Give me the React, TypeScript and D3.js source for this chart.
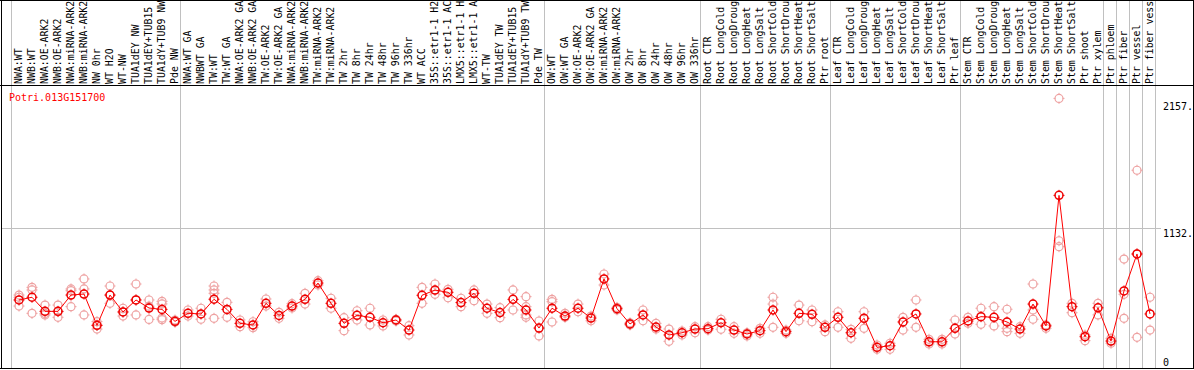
import React, { useEffect } from "react";
import * as d3 from "d3";

const categories = [
  "NWA:WT","NWB:WT","NWA:OE-ARK2","NWB:OE-ARK2","NWA:miRNA-ARK2","NWB:miRNA-ARK2","NW 0hr","WT H2O","WT-NW","TUA1dEY NW","TUA1dEY+TUB15 NW","TUA1dY+TUB9 NW","Pde NW",
  "NWA:WT GA","NWBWT GA","TW:WT","TW:WT GA","NWA:OE-ARK2 GA","NWB:OE-ARK2 GA","TW:OE-ARK2","TW:OE-ARK2 GA","NWA:miRNA-ARK2","NWB:miRNA-ARK2","TW:miRNA-ARK2","TW:miRNA-ARK2",
  "TW 2hr","TW 8hr","TW 24hr","TW 48hr","TW 96hr","TW 336hr","WT ACC","35S::etr1-1 H2O","35S::etr1-1 ACC","LMX5::etr1-1 H2O","LMX5::etr1-1 ACC","WT-TW","TUA1dEY TW","TUA1dEY+TUB15 TW","TUA1dY+TUB9 TW","Pde TW",
  "OW:WT","OW:WT GA","OW:OE-ARK2","OW:OE-ARK2 GA","OW:miRNA-ARK2","OW:miRNA-ARK2","OW 2hr","OW 8hr","OW 24hr","OW 48hr","OW 96hr","OW 336hr",
  "Root CTR","Root LongCold","Root LongDrought","Root LongHeat","Root LongSalt","Root ShortCold","Root ShortDrought","Root ShortHeat","Root ShortSalt","Ptr root",
  "Leaf CTR","Leaf LongCold","Leaf LongDrought","Leaf LongHeat","Leaf LongSalt","Leaf ShortCold","Leaf ShortDrought","Leaf ShortHeat","Leaf ShortSalt","Ptr leaf",
  "Stem CTR","Stem LongCold","Stem LongDrought","Stem LongHeat","Stem LongSalt","Stem ShortCold","Stem ShortDrought","Stem ShortHeat","Stem ShortSalt","Ptr shoot","Ptr xylem",
  "Ptr phloem","Ptr fiber","Ptr vessel","Ptr fiber vessel"
];

const meanValues = [
  550,572,458,458,590,598,345,590,453,550,485,474,377,
  442,437,556,474,361,348,523,425,501,555,687,523,
  361,426,410,366,388,307,588,630,612,529,604,483,448,555,469,323,
  483,420,483,404,720,480,356,429,331,267,285,315,
  318,366,307,275,302,469,294,442,434,329,
  410,285,402,167,180,372,437,212,212,321,
  380,415,410,372,315,517,340,1396,496,253,487,
  218,623,922,437
];

const replicateValues = [
  [590,572,501],[652,631,442],[509,429,440],[509,410,455],[639,625,496],[720,639,429],[375,315,345],[663,523,590],[483,420,453],[679,429,550],[550,393,500],[539,518,404,391],[388,372,372],
  [469,420],[483,394],[663,631,604,402],[531,410],[388,334],[374,326],[558,501],[450,402],[520,485],[604,517],[706,671],[564,483],
  [407,302],[463,388],[483,348],[388,340],[394,380],[342,267],[652,523],[679,596],[636,568],[564,496],[631,544],[517,442],[488,407],[631,469],[577,496,429,410],[380,259],
  [555,536,372],[442,410],[517,455],[420,382],[760,671],[490,470],[365,348],[469,382],[361,315],[315,216],[299,267],[334,285],
  [334,307],[394,313],[334,280],[285,259],[321,280],[572,517,329],[307,280],[509,382],[469,374],[348,294],
  [455,329],[313,240],[455,321],[186,151],[200,151],[410,307],[550,329],[232,194],[232,194],[388,275],
  [410,361],[483,353],[496,340],[475,321,294],[334,280],[679,469,394],[348,321],[2180,1029,981],[523,447],[267,221],[523,429],
  [240,200],[596,402,881],[1599,248,922],[572,307]
];

const groupStarts = [0, 13, 41, 53, 63, 73, 84, 85, 86, 87, 88];
const yTicks = [0, 1132, 2157];
const gridValues = [1132];
const geneTitle = "Potri.013G151700";
const maxLabelChars = 14;

const W = 1194;
const H = 370;
const FONT = "'DejaVu Sans Mono', monospace";

function Marker({ cx, cy, color, sw }: { cx: number; cy: number; color: string; sw: number }) {
  const r = 4;
  return (
    <g>
      <circle cx={cx} cy={cy} r={r} fill="none" stroke={color} strokeWidth={sw} />
      <line x1={cx} y1={cy - r - 1.5} x2={cx} y2={cy - r + 0.5} stroke={color} strokeWidth={1} />
      <line x1={cx} y1={cy + r - 0.5} x2={cx} y2={cy + r + 1.5} stroke={color} strokeWidth={1} />
      <line x1={cx - r - 1.5} y1={cy} x2={cx - r + 0.5} y2={cy} stroke={color} strokeWidth={1} />
      <line x1={cx + r - 0.5} y1={cy} x2={cx + r + 1.5} y2={cy} stroke={color} strokeWidth={1} />
    </g>
  );
}

export default function App() {
  useEffect(() => {
    document.body.style.margin = "0";
  }, []);

  const x = d3.scaleLinear().domain([0, categories.length - 1]).range([19, 19 + 13 * (categories.length - 1)]);
  const y = d3.scaleLinear().domain([0, 1132]).range([368, 228]);

  const line = d3
    .line<number>()
    .x((_, i) => x(i))
    .y((d) => y(d));

  const plotTop = 85;
  const plotBottom = 368;
  const right = 1193;

  return (
    <svg width={W} height={H} style={{ position: "absolute", left: 0, top: 0, display: "block" }} fontFamily={FONT}>
      <rect x={0} y={0} width={W} height={H} fill="#fff" />
      {/* vertical group gridlines */}
      {groupStarts.map((g) => {
        const gx = Math.round(x(g) - 8) + 0.5;
        return <line key={"g" + g} x1={gx} x2={gx} y1={0} y2={plotBottom} stroke="#c0c0c0" strokeWidth={1} shapeRendering="crispEdges" />;
      })}
      {/* horizontal gridlines */}
      {gridValues.map((v) => (
        <line key={"h" + v} x1={1} x2={1161} y1={Math.round(y(v)) + 0.5} y2={Math.round(y(v)) + 0.5} stroke="#c0c0c0" strokeWidth={1} shapeRendering="crispEdges" />
      ))}
      {/* category labels */}
      <g>
        {categories.map((c, i) => (
          <text key={"c" + i} transform={`translate(${x(i) + 2.5},84) rotate(-90)`} fontSize={9.9} fill="#000">
            {c.slice(0, maxLabelChars)}
          </text>
        ))}
      </g>
      {/* frame */}
      <line x1={0} x2={W} y1={0.5} y2={0.5} stroke="#000" shapeRendering="crispEdges" />
      <line x1={0} x2={W} y1={plotTop + 0.5} y2={plotTop + 0.5} stroke="#000" shapeRendering="crispEdges" />
      <line x1={0} x2={W} y1={plotBottom + 0.5} y2={plotBottom + 0.5} stroke="#000" shapeRendering="crispEdges" />
      <line x1={1.5} x2={1.5} y1={0} y2={plotBottom + 1} stroke="#000" shapeRendering="crispEdges" />
      <line x1={right + 0.5} x2={right + 0.5} y1={0} y2={plotBottom + 1} stroke="#000" shapeRendering="crispEdges" />
      {/* title */}
      <text x={9} y={101} fontSize={10} fill="#ff0000">{geneTitle}</text>
      {/* y labels */}
      {yTicks.map((v) => (
        <text key={"y" + v} x={1163} y={Math.min(y(v) + 8.5, 365.5)} fontSize={10} fill="#000">
          {v === 0 ? "0" : v + "."}
        </text>
      ))}
      {/* replicates */}
      <g>
        {replicateValues.map((reps, i) =>
          reps.map((v, j) => <Marker key={`r${i}-${j}`} cx={x(i)} cy={y(v)} color="#eea2a2" sw={1.2} />)
        )}
      </g>
      {/* mean line */}
      <path d={line(meanValues) || ""} fill="none" stroke="#ff0000" strokeWidth={1} />
      {/* means */}
      <g>
        {meanValues.map((v, i) => (
          <Marker key={"m" + i} cx={x(i)} cy={y(v)} color="#ee0000" sw={1.5} />
        ))}
      </g>
    </svg>
  );
}
